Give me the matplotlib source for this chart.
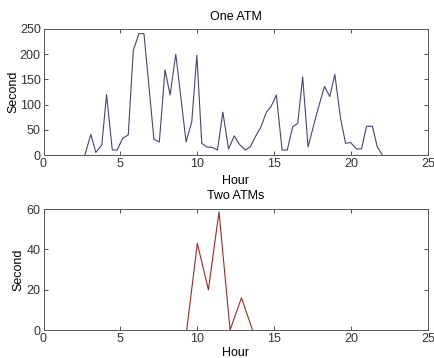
import matplotlib
matplotlib.use("Agg")
import matplotlib.pyplot as plt

plt.rcParams['font.family'] = ['Liberation Sans', 'DejaVu Sans']

# One ATM: waiting time (s) by hour
one_hours = [2.69, 3.08, 3.40, 3.79, 4.10, 4.47, 4.79, 5.14, 5.51, 5.84,
             6.21, 6.53, 7.18, 7.53, 7.90, 8.23, 8.60, 9.27, 9.64, 9.97,
             10.29, 10.62, 10.98, 11.31, 11.66, 12.03, 12.40, 12.74, 13.12, 13.44,
             13.77, 14.14, 14.49, 14.79, 15.14, 15.51, 15.85, 16.20, 16.53, 16.85,
             17.20, 17.57, 17.89, 18.27, 18.61, 18.94, 19.31, 19.64, 19.96, 20.35,
             20.68, 21.00, 21.38, 21.70, 22.03]
one_secs = [0, 41, 5, 20, 120, 10, 10, 33, 40, 208,
            241, 241, 31, 26, 169, 119, 200, 26, 66, 198,
            23, 16, 15, 10, 85, 12, 38, 21, 10, 16,
            36, 56, 85, 96, 119, 10, 10, 56, 63, 155,
            16, 60, 96, 136, 116, 160, 73, 23, 25, 12,
            12, 57, 57, 16, 0]

# Two ATMs
two_hours = [9.31, 10.0, 10.72, 11.41, 12.13, 12.87, 13.59]
two_secs = [0, 43, 20, 58.7, 0, 16, 0]


def style(ax):
    ax.tick_params(direction='in', top=True, right=True, labelsize=9,
                   length=3, width=0.6, colors='#333333', pad=2)
    for s in ax.spines.values():
        s.set_color('#555555')
        s.set_linewidth(0.7)


fig = plt.figure(figsize=(4.35, 3.58), dpi=100)
ax1 = fig.add_axes([0.1, 0.567, 0.884, 0.352])
ax1.plot(one_hours, one_secs, color='#45457a', linewidth=0.8)
ax1.set_xlim(0, 25)
ax1.set_ylim(0, 250)
ax1.set_xticks([0, 5, 10, 15, 20, 25])
ax1.set_yticks([0, 50, 100, 150, 200, 250])
ax1.set_title('One ATM', fontsize=9, pad=6.5)
ax1.set_xlabel('Hour', fontsize=9, labelpad=4)
ax1.set_ylabel('Second', fontsize=9, labelpad=0)
style(ax1)

ax2 = fig.add_axes([0.1, 0.078, 0.884, 0.338])
ax2.plot(two_hours, two_secs, color='#a02a22', linewidth=0.8)
ax2.set_xlim(0, 25)
ax2.set_ylim(0, 60)
ax2.set_xticks([0, 5, 10, 15, 20, 25])
ax2.set_yticks([0, 20, 40, 60])
ax2.set_title('Two ATMs', fontsize=9, pad=7.5)
ax2.set_xlabel('Hour', fontsize=9, labelpad=1.5)
ax2.set_ylabel('Second', fontsize=9, labelpad=2)
style(ax2)

fig.savefig('out.png', dpi=100)
